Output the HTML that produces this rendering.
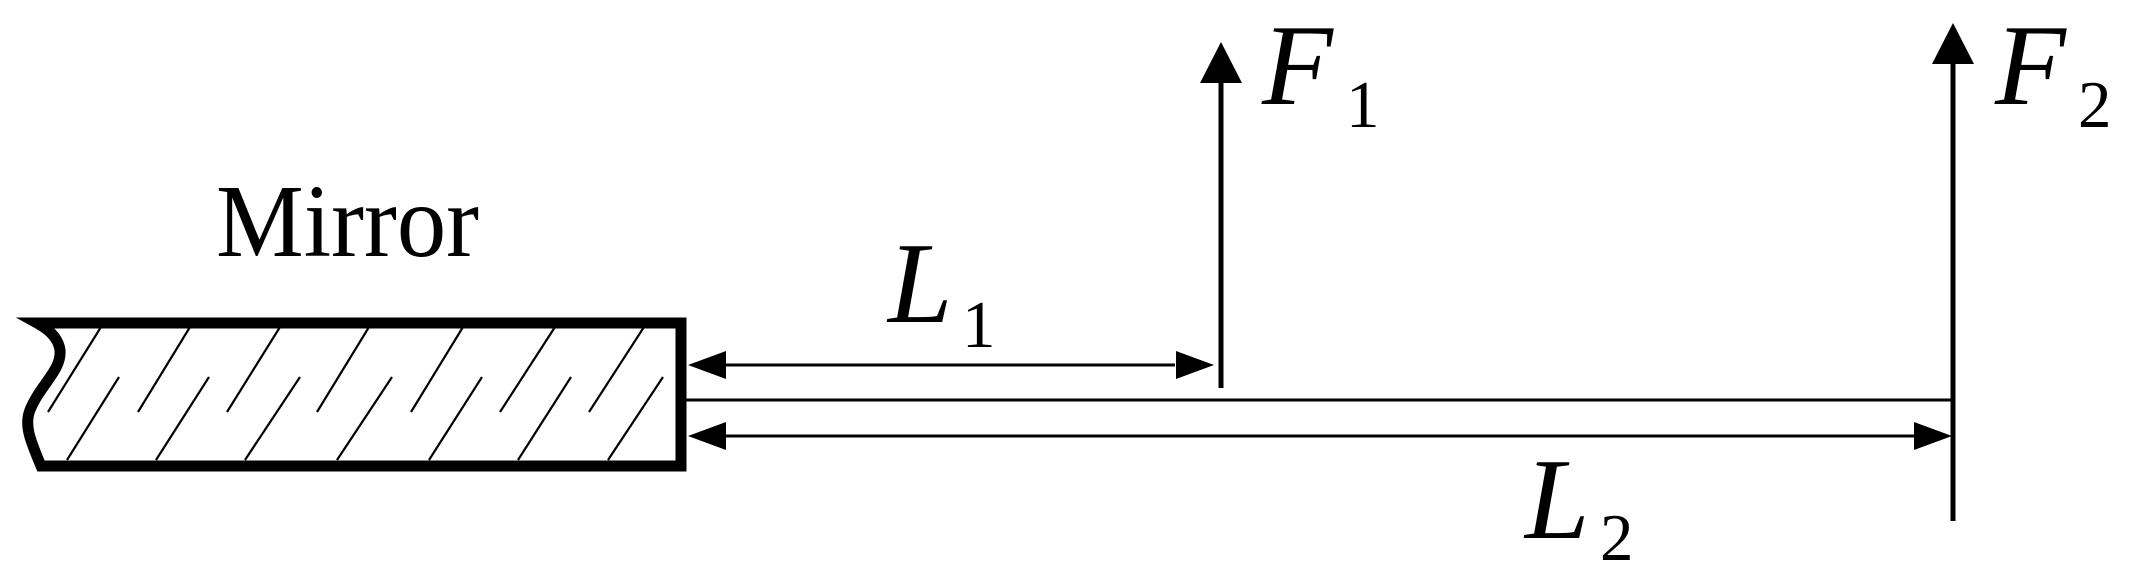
<!DOCTYPE html>
<html><head><meta charset="utf-8"><style>
html,body{margin:0;padding:0;background:#fff;}
svg{display:block;}
text{font-family:"Liberation Serif",serif;fill:#000;}
.it{font-style:italic;font-size:116px;}
.sub{font-size:67px;}
</style></head><body>
<svg width="2135" height="582" viewBox="0 0 2135 582" xmlns="http://www.w3.org/2000/svg">
<!-- Mirror label -->
<text x="216" y="256" style="font-size:104px" textLength="263" lengthAdjust="spacingAndGlyphs">Mirror</text>
<!-- mirror body -->
<path d="M37,323 L681,323 L681,466 L41,466 C30,440 24,425 30,410 C40,385 62,370 60,350 C58,336 46,328 37,323 Z" fill="none" stroke="#000" stroke-width="11" stroke-linejoin="miter"/>
<g stroke="#000" stroke-width="2.2">
<line x1="101" y1="327" x2="48" y2="412"/>
<line x1="190" y1="327" x2="138" y2="412"/>
<line x1="280" y1="327" x2="227" y2="412"/>
<line x1="369" y1="327" x2="317" y2="412"/>
<line x1="463" y1="327" x2="411" y2="412"/>
<line x1="555" y1="327" x2="500" y2="412"/>
<line x1="644" y1="327" x2="589" y2="412"/>
<line x1="67" y1="460" x2="119" y2="377"/>
<line x1="156" y1="460" x2="209" y2="377"/>
<line x1="245" y1="460" x2="300" y2="377"/>
<line x1="337" y1="460" x2="392" y2="377"/>
<line x1="429" y1="460" x2="482" y2="377"/>
<line x1="518" y1="460" x2="571" y2="377"/>
<line x1="608" y1="460" x2="663" y2="377"/>
</g>
<!-- beam line -->
<line x1="686" y1="400" x2="1954" y2="400" stroke="#000" stroke-width="3"/>
<!-- L1 dimension -->
<line x1="720" y1="365" x2="1175" y2="365" stroke="#000" stroke-width="3"/>
<polygon points="688,365 726,351 726,379" fill="#000"/>
<polygon points="1214,365 1176,351 1176,379" fill="#000"/>
<!-- L2 dimension -->
<line x1="720" y1="436" x2="1915" y2="436" stroke="#000" stroke-width="3"/>
<polygon points="688,436 726,422 726,450" fill="#000"/>
<polygon points="1952,436 1914,422 1914,450" fill="#000"/>
<!-- F1 arrow -->
<line x1="1221" y1="80" x2="1221" y2="388" stroke="#000" stroke-width="5"/>
<polygon points="1221,42 1200,83 1242,83" fill="#000"/>
<!-- F2 arrow -->
<line x1="1953" y1="60" x2="1953" y2="521" stroke="#000" stroke-width="5"/>
<polygon points="1953,23 1932,64 1974,64" fill="#000"/>
<!-- labels -->
<text class="it" x="1262" y="104">F</text>
<text class="sub" x="1346" y="127">1</text>
<text class="it" x="1995" y="104">F</text>
<text class="sub" x="2078" y="127">2</text>
<text class="it" x="888" y="322">L</text>
<text class="sub" x="962" y="347">1</text>
<text class="it" x="1525" y="538">L</text>
<text class="sub" x="1600" y="560">2</text>
</svg>
</body></html>
